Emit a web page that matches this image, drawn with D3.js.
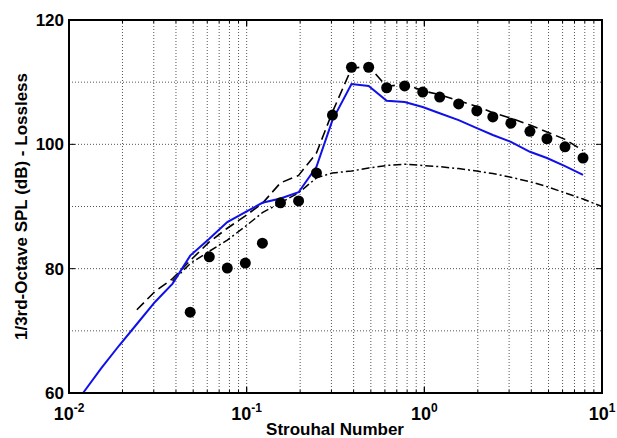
<!DOCTYPE html>
<html>
<head>
<meta charset="utf-8">
<script src="https://cdn.jsdelivr.net/npm/d3@7"></script>
<style>
  body { margin: 0; background: #fff; }
  text { font-family: "Liberation Sans", Arial, sans-serif; font-weight: bold; }
</style>
</head>
<body>
<script>
// 1/3-octave band centres (Strouhal) for measured data
var stBands = [0.0481, 0.0616, 0.0778, 0.0983, 0.1226, 0.155, 0.196, 0.247, 0.304, 0.389, 0.486, 0.614,
               0.775, 0.979, 1.22, 1.56, 1.975, 2.43, 3.07, 3.93, 4.90, 6.19, 7.82];
var measured = [73.0, 81.9, 80.1, 80.9, 84.1, 90.6, 90.9, 95.4, 104.7, 112.4, 112.4, 109.1,
                109.4, 108.4, 107.6, 106.5, 105.4, 104.4, 103.4, 102.1, 100.9, 99.6, 97.8];

// blue solid line
var stBlue = [0.012, 0.0152, 0.0191, 0.0241, 0.0304, 0.0383, 0.0481, 0.0616, 0.0778, 0.0983, 0.1226, 0.155,
              0.196, 0.247, 0.304, 0.389, 0.486, 0.614, 0.775, 0.979, 1.22, 1.56, 1.975, 2.43, 3.07, 3.93,
              4.90, 6.19, 7.82];
var splBlue = [60.0, 64.0, 67.6, 71.1, 74.6, 77.6, 82.1, 84.8, 87.5, 89.1, 90.6, 91.3,
               92.3, 96.4, 103.9, 109.7, 109.4, 107.0, 106.8, 106.0, 105.0, 103.9, 102.6, 101.5, 100.4, 98.8,
               97.8, 96.5, 95.1];

// black dashed line
var stDash = [0.0241, 0.0304, 0.0383, 0.0481, 0.0616, 0.0778, 0.0983, 0.1226, 0.155, 0.196, 0.247, 0.304,
              0.389, 0.486, 0.614, 0.775, 0.979, 1.22, 1.56, 1.975, 2.43, 3.07, 3.93, 4.90, 6.19, 7.82];
var splDash = [73.4, 76.3, 78.4, 81.3, 84.3, 86.5, 88.5, 90.5, 93.8, 95.0, 98.6, 105.2,
               112.2, 112.6, 109.3, 109.7, 108.6, 108.0, 107.0, 106.1, 105.1, 104.2, 103.1, 102.0, 100.8, 99.0];

// black dash-dot line
var stDashDot = [0.0383, 0.0481, 0.0616, 0.0778, 0.0983, 0.1226, 0.155, 0.196, 0.247, 0.304, 0.389, 0.486,
                 0.614, 0.775, 0.979, 1.22, 1.56, 1.975, 2.43, 3.07, 3.93, 4.90, 6.19, 7.82, 10.0];
var splDashDot = [78.0, 80.8, 82.8, 84.6, 86.8, 89.0, 90.6, 92.2, 94.6, 95.4, 95.7, 96.2,
                  96.6, 96.8, 96.6, 96.4, 96.1, 95.7, 95.3, 94.7, 94.0, 93.2, 92.2, 91.2, 90.0];

var xDecades = [0.01, 0.1, 1, 10];
var xExponents = ["-2", "-1", "0", "1"];
var yTicks = [60, 80, 100, 120];
var yGrid = [70, 80, 90, 100, 110];

var W = 617, H = 438;
var plotL = 69, plotR = 602, plotT = 20, plotB = 393;

var x = d3.scaleLog().domain([0.01, 10]).range([plotL, plotR]);
var y = d3.scaleLinear().domain([60, 120]).range([plotB, plotT]);

var svg = d3.select("body").append("svg")
    .attr("width", W)
    .attr("height", H);

// minor log positions for grid
var xGrid = [];
[0.01, 0.1, 1].forEach(function(d) {
  for (var k = 1; k <= 9; k++) xGrid.push(d * k);
});
xGrid = xGrid.filter(function(v) { return v > 0.01; });

svg.append("g").selectAll("line")
    .data(xGrid)
  .enter().append("line")
    .attr("x1", function(d) { return x(d); })
    .attr("x2", function(d) { return x(d); })
    .attr("y1", plotT)
    .attr("y2", plotB)
    .style("stroke", "#555")
    .style("stroke-width", 1)
    .style("stroke-dasharray", "1,2");

svg.append("g").selectAll("line")
    .data(yGrid)
  .enter().append("line")
    .attr("x1", plotL)
    .attr("x2", plotR)
    .attr("y1", function(d) { return y(d); })
    .attr("y2", function(d) { return y(d); })
    .style("stroke", "#555")
    .style("stroke-width", 1)
    .style("stroke-dasharray", "1,2");

// tick marks inside the box
var ticksG = svg.append("g").style("stroke", "#000").style("stroke-width", 1);
xGrid.concat(xDecades).forEach(function(d) {
  var len = xDecades.indexOf(d) >= 0 ? 6 : 3;
  ticksG.append("line").attr("x1", x(d)).attr("x2", x(d)).attr("y1", plotB).attr("y2", plotB - len);
  ticksG.append("line").attr("x1", x(d)).attr("x2", x(d)).attr("y1", plotT).attr("y2", plotT + len);
});
yTicks.forEach(function(d) {
  ticksG.append("line").attr("x1", plotL).attr("x2", plotL + 6).attr("y1", y(d)).attr("y2", y(d));
  ticksG.append("line").attr("x1", plotR).attr("x2", plotR - 6).attr("y1", y(d)).attr("y2", y(d));
});

function makeLine(xs, ys) {
  return d3.line()
    .x(function(d, i) { return x(xs[i]); })
    .y(function(d, i) { return y(ys[i]); })(ys);
}

svg.append("path")
    .attr("d", makeLine(stDashDot, splDashDot))
    .style("fill", "none")
    .style("stroke", "#000")
    .style("stroke-width", 1.5)
    .style("stroke-dasharray", "8,3,2,3");

svg.append("path")
    .attr("d", makeLine(stDash, splDash))
    .style("fill", "none")
    .style("stroke", "#000")
    .style("stroke-width", 1.6)
    .style("stroke-dasharray", "10,5");

svg.append("path")
    .attr("d", makeLine(stBlue, splBlue))
    .style("fill", "none")
    .style("stroke", "#1010e8")
    .style("stroke-width", 2);

svg.append("g").selectAll("circle")
    .data(measured)
  .enter().append("circle")
    .attr("cx", function(d, i) { return x(stBands[i]); })
    .attr("cy", function(d) { return y(d); })
    .attr("r", 5.5)
    .style("fill", "#000");

// axis box
svg.append("rect")
    .attr("x", plotL)
    .attr("y", plotT)
    .attr("width", plotR - plotL)
    .attr("height", plotB - plotT)
    .style("fill", "none")
    .style("stroke", "#000")
    .style("stroke-width", 2);

// y tick labels
svg.append("g").selectAll("text")
    .data(yTicks)
  .enter().append("text")
    .attr("x", plotL - 5)
    .attr("y", function(d) { return y(d) + 6; })
    .attr("text-anchor", "end")
    .style("font-size", "17px")
    .text(function(d) { return d; });

// x tick labels 10^n
var xl = svg.append("g").selectAll("text")
    .data(xDecades)
  .enter().append("text")
    .attr("x", function(d) { return x(d); })
    .attr("y", 420)
    .attr("text-anchor", "middle")
    .style("font-size", "18px");
xl.append("tspan").text("10");
xl.append("tspan")
    .attr("dy", -8)
    .style("font-size", "12px")
    .text(function(d, i) { return xExponents[i]; });

svg.append("text")
    .attr("x", 335)
    .attr("y", 435)
    .attr("text-anchor", "middle")
    .style("font-size", "17px")
    .text("Strouhal Number");

svg.append("text")
    .attr("transform", "translate(27," + ((plotT + plotB) / 2) + ") rotate(-90)")
    .attr("text-anchor", "middle")
    .style("font-size", "17px")
    .text("1/3rd-Octave SPL (dB) - Lossless");
</script>
</body>
</html>
